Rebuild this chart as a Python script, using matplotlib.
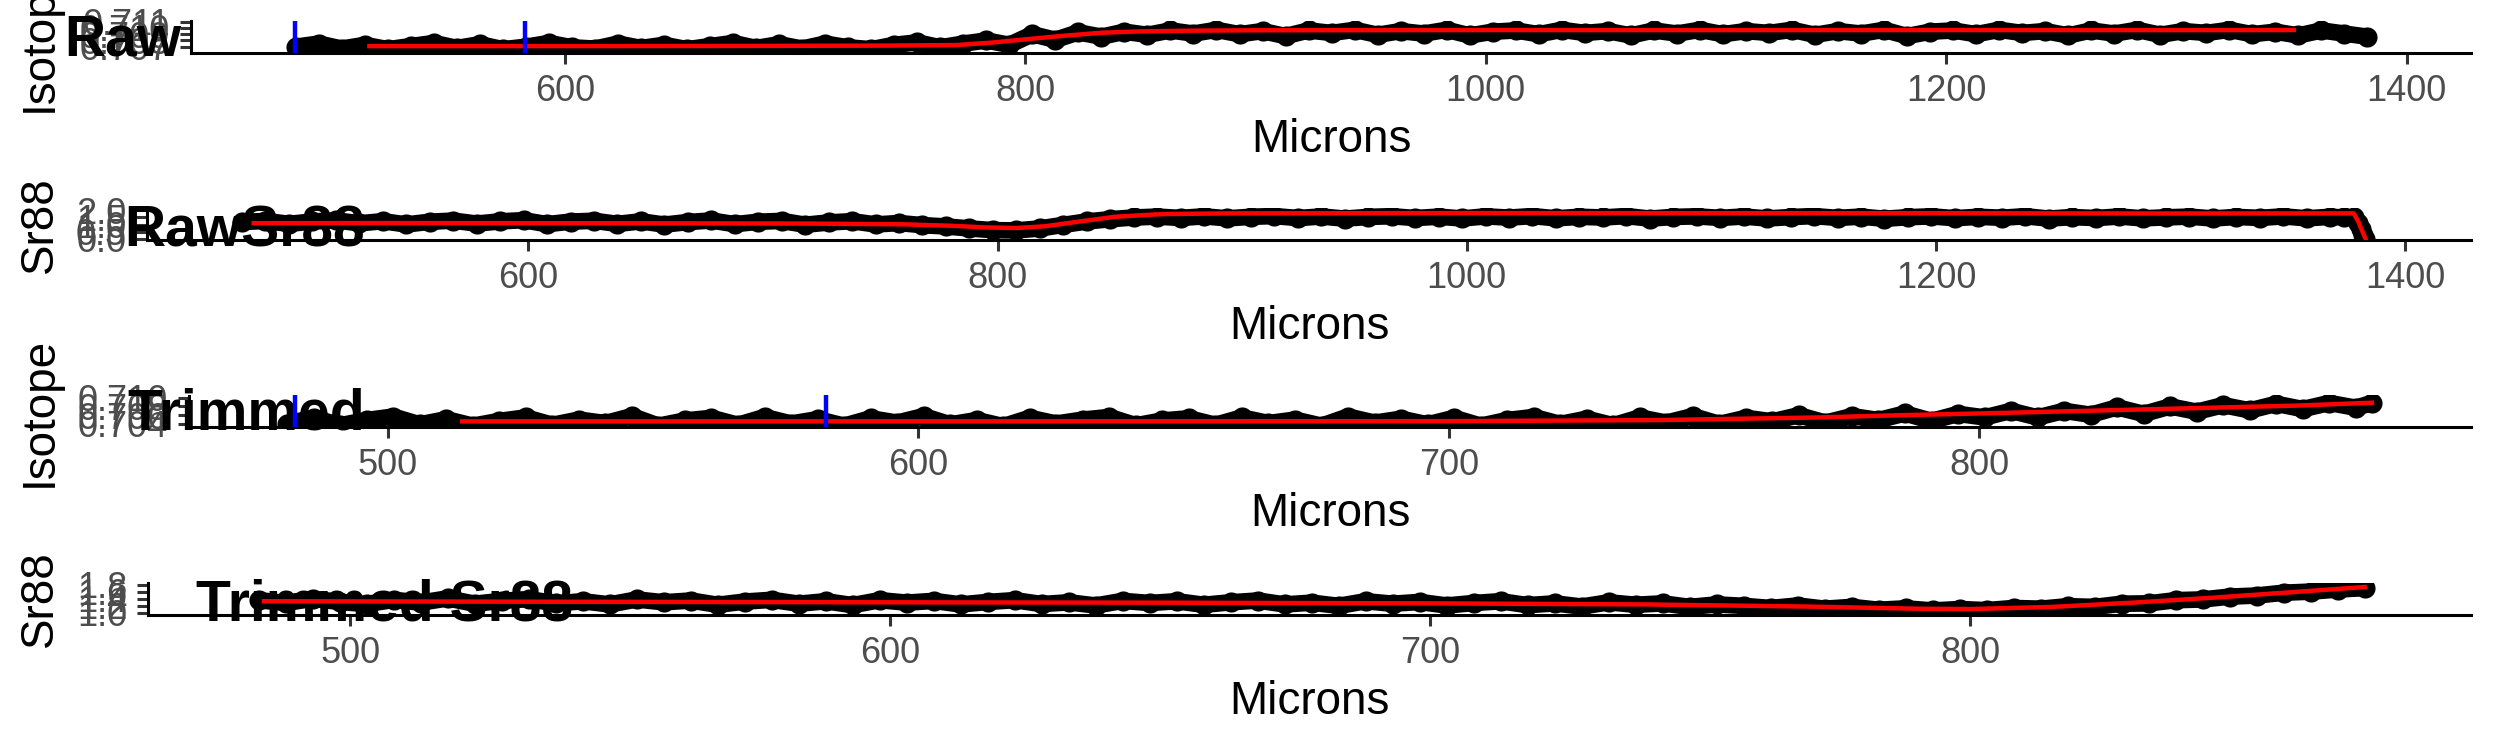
import matplotlib.pyplot as plt

plt.rcParams['font.family'] = ['Liberation Sans', 'DejaVu Sans']

# ---- Raw isotope ratio (points and smoothed line)
raw_iso_x = [483, 493, 503, 513, 523, 533, 543, 553, 563, 573, 583, 593, 603, 613, 623, 633,
             643, 653, 663, 673, 683, 693, 703, 713, 723, 733, 743, 753, 763, 773, 783, 793,
             803, 813, 823, 833, 843, 853, 863, 873, 883, 893, 903, 913, 923, 933, 943, 953,
             963, 973, 983, 993, 1003, 1013, 1023, 1033, 1043, 1053, 1063, 1073, 1083, 1093,
             1103, 1113, 1123, 1133, 1143, 1153, 1163, 1173, 1183, 1193, 1203, 1213, 1223,
             1233, 1243, 1253, 1263, 1273, 1283, 1293, 1303, 1313, 1323, 1333, 1343, 1353,
             1363, 1373, 1383]
raw_iso_y = [0.7070, 0.7075, 0.7067, 0.7073, 0.7066, 0.7071, 0.7076, 0.7068, 0.7074, 0.7066,
             0.7070, 0.7076, 0.7069, 0.7067, 0.7075, 0.7068, 0.7073, 0.7066, 0.7071, 0.7076,
             0.7068, 0.7074, 0.7067, 0.7075, 0.7069, 0.7066, 0.7073, 0.7077, 0.7069, 0.7075,
             0.7080, 0.7073, 0.7090, 0.7081, 0.7093, 0.7086, 0.7094, 0.7089, 0.7096, 0.7091,
             0.7097, 0.7090, 0.7095, 0.7087, 0.7096, 0.7092, 0.7097, 0.7089, 0.7095, 0.7091,
             0.7097, 0.7088, 0.7094, 0.7096, 0.7090, 0.7097, 0.7092, 0.7095, 0.7088, 0.7096,
             0.7091, 0.7097, 0.7090, 0.7095, 0.7092, 0.7097, 0.7089, 0.7095, 0.7091, 0.7097,
             0.7087, 0.7094, 0.7096, 0.7090, 0.7097, 0.7092, 0.7095, 0.7088, 0.7096, 0.7091,
             0.7097, 0.7089, 0.7095, 0.7092, 0.7097, 0.7090, 0.7094, 0.7088, 0.7096, 0.7091,
             0.7086]
raw_iso_smooth_x = [515, 560, 620, 680, 740, 770, 785, 800, 815, 833, 850, 870, 900, 1000,
                    1100, 1200, 1300, 1351]
raw_iso_smooth_y = [0.70710, 0.70710, 0.70711, 0.70713, 0.70718, 0.70727, 0.70765, 0.70818,
                    0.70870, 0.70924, 0.70945, 0.70956, 0.70963, 0.70967, 0.70966, 0.70967,
                    0.70966, 0.70967]
raw_iso_window = [482.5, 582.5]

# ---- Raw Sr88
raw_sr_x = [478, 488, 498, 508, 518, 528, 538, 548, 558, 568, 578, 588, 598, 608, 618, 628,
            638, 648, 658, 668, 678, 688, 698, 708, 718, 728, 738, 748, 758, 768, 778, 788,
            798, 808, 818, 828, 838, 848, 858, 868, 878, 888, 898, 908, 918, 928, 938, 948,
            958, 968, 978, 988, 998, 1008, 1018, 1028, 1038, 1048, 1058, 1068, 1078, 1088,
            1098, 1108, 1118, 1128, 1138, 1148, 1158, 1168, 1178, 1188, 1198, 1208, 1218,
            1228, 1238, 1248, 1258, 1268, 1278, 1288, 1298, 1308, 1318, 1328, 1338, 1348,
            1358, 1368, 1374, 1378, 1380, 1381, 1382, 1383]
raw_sr_y = [1.18, 1.26, 1.05, 1.22, 1.30, 1.09, 1.24, 1.01, 1.20, 1.28, 1.07, 1.23, 1.31, 1.03,
            1.21, 1.27, 1.05, 1.23, 1.00, 1.18, 1.29, 1.03, 1.20, 1.26, 0.99, 1.15, 1.24, 1.01,
            1.11, 0.96, 0.87, 0.73, 0.61, 0.59, 0.73, 0.98, 1.22, 1.38, 1.50, 1.56, 1.47, 1.58,
            1.44, 1.55, 1.60, 1.46, 1.57, 1.42, 1.54, 1.59, 1.46, 1.56, 1.43, 1.58, 1.49, 1.60,
            1.44, 1.55, 1.50, 1.60, 1.42, 1.54, 1.58, 1.47, 1.57, 1.43, 1.53, 1.60, 1.47, 1.56,
            1.41, 1.52, 1.58, 1.45, 1.55, 1.48, 1.59, 1.42, 1.53, 1.46, 1.57, 1.44, 1.51, 1.56,
            1.43, 1.54, 1.47, 1.58, 1.44, 1.55, 1.50, 1.52, 1.10, 0.70, 0.30, 0.02]
raw_sr_smooth_x = [483, 540, 600, 660, 720, 760, 780, 795, 808, 820, 835, 850, 870, 900, 1000,
                   1100, 1200, 1300, 1370, 1378, 1380, 1382, 1383]
raw_sr_smooth_y = [1.10, 1.11, 1.10, 1.09, 1.07, 1.02, 0.92, 0.80, 0.76, 0.88, 1.22, 1.55, 1.74,
                   1.79, 1.81, 1.80, 1.80, 1.78, 1.79, 1.79, 1.20, 0.40, 0.02]

# ---- Trimmed isotope ratio
trim_iso_x = [481, 486, 491, 496, 501, 506, 511, 516, 521, 526, 531, 536, 541, 546, 551, 556,
              561, 566, 571, 576, 581, 586, 591, 596, 601, 606, 611, 616, 621, 626, 631, 636,
              641, 646, 651, 656, 661, 666, 671, 676, 681, 686, 691, 696, 701, 706, 711, 716,
              721, 726, 731, 736, 741, 746, 751, 756, 761, 766, 771, 776, 781, 786, 791, 796,
              801, 806, 811, 816, 821, 826, 831, 836, 841, 846, 851, 856, 861, 866, 871, 874]
trim_iso_y = [0.7041, 0.7054, 0.7037, 0.7049, 0.7057, 0.7039, 0.7051, 0.7036, 0.7047, 0.7055,
              0.7038, 0.7050, 0.7042, 0.7058, 0.7036, 0.7048, 0.7054, 0.7038, 0.7056, 0.7041,
              0.7051, 0.7036, 0.7053, 0.7043, 0.7058, 0.7039, 0.7049, 0.7035, 0.7054, 0.7041,
              0.7050, 0.7056, 0.7037, 0.7048, 0.7053, 0.7038, 0.7055, 0.7042, 0.7050, 0.7036,
              0.7057, 0.7043, 0.7052, 0.7039, 0.7054, 0.7036, 0.7049, 0.7056, 0.7040, 0.7052,
              0.7037, 0.7055, 0.7043, 0.7058, 0.7040, 0.7054, 0.7046, 0.7060, 0.7043, 0.7058,
              0.7049, 0.7064, 0.7047, 0.7063, 0.7055, 0.7070, 0.7055, 0.7070, 0.7061, 0.7078,
              0.7063, 0.7080, 0.7068, 0.7083, 0.7071, 0.7086, 0.7074, 0.7088, 0.7077, 0.7088]
trim_iso_smooth_x = [514, 560, 620, 680, 700, 740, 770, 785, 800, 830, 860, 874]
trim_iso_smooth_y = [0.70460, 0.70460, 0.70461, 0.70463, 0.70465, 0.70490, 0.70550, 0.70600,
                     0.70640, 0.70730, 0.70820, 0.70885]
trim_iso_window = [482.5, 582.5]

# ---- Trimmed Sr88
trim_sr_x = [483, 488, 493, 498, 503, 508, 513, 518, 523, 528, 533, 538, 543, 548, 553, 558,
             563, 568, 573, 578, 583, 588, 593, 598, 603, 608, 613, 618, 623, 628, 633, 638,
             643, 648, 653, 658, 663, 668, 673, 678, 683, 688, 693, 698, 703, 708, 713, 718,
             723, 728, 733, 738, 743, 748, 753, 758, 763, 768, 773, 778, 783, 788, 793, 798,
             803, 808, 813, 818, 823, 828, 833, 838, 843, 848, 853, 858, 863, 868, 873]
trim_sr_y = [1.36, 1.28, 1.40, 1.31, 1.25, 1.37, 1.29, 1.41, 1.26, 1.34, 1.39, 1.27, 1.33, 1.24,
             1.38, 1.30, 1.35, 1.23, 1.32, 1.37, 1.26, 1.33, 1.22, 1.36, 1.29, 1.34, 1.24, 1.31,
             1.36, 1.25, 1.30, 1.21, 1.34, 1.28, 1.33, 1.23, 1.30, 1.35, 1.24, 1.29, 1.20, 1.33,
             1.26, 1.31, 1.21, 1.28, 1.33, 1.22, 1.27, 1.18, 1.30, 1.23, 1.27, 1.17, 1.24, 1.20,
             1.14, 1.21, 1.12, 1.17, 1.09, 1.13, 1.07, 1.11, 1.08, 1.14, 1.12, 1.19, 1.17, 1.26,
             1.27, 1.36, 1.38, 1.46, 1.49, 1.57, 1.60, 1.66, 1.70]
trim_sr_smooth_x = [484, 520, 560, 600, 650, 700, 740, 770, 790, 800, 815, 830, 845, 860, 873]
trim_sr_smooth_y = [1.33, 1.32, 1.31, 1.30, 1.29, 1.27, 1.24, 1.18, 1.12, 1.11, 1.17, 1.29, 1.43,
                    1.59, 1.73]

raw_xticks = [600, 800, 1000, 1200, 1400]
trim_xticks = [500, 600, 700, 800]
raw_iso_yticks = [0.707, 0.708, 0.709, 0.710, 0.711]
raw_sr_yticks = [0.0, 0.5, 1.0, 1.5, 2.0]
trim_iso_yticks = [0.704, 0.706, 0.708, 0.710]
trim_sr_yticks = [1.0, 1.2, 1.4, 1.6, 1.8]

W, H = 2495, 749
BLOCK = H / 4

fig = plt.figure(figsize=(W / 100, H / 100), dpi=100)


def make_panel(k, left, xlim, ylim, xticks, yticks, fmt, ylabel, title, title_x, title_y):
    # panel box in pixels, block k from the top
    top = BLOCK * k + 21
    bottom = BLOCK * k + 53
    ax = fig.add_axes([left / W, 1 - bottom / H, (2471 - left) / W, (bottom - top) / H])
    ax.set_xlim(xlim)
    ax.set_ylim(ylim)
    ax.set_xticks(xticks)
    ax.set_yticks(yticks)
    ax.set_yticklabels([fmt % t for t in yticks])
    for side in ['top', 'right']:
        ax.spines[side].set_visible(False)
    for side in ['left', 'bottom']:
        ax.spines[side].set_linewidth(2.2)
        ax.spines[side].set_color('black')
    ax.tick_params(length=8, width=2.2, color='#333333', labelcolor='#4D4D4D',
                   labelsize=26, pad=7)
    # axis titles
    fig.text(40 / W, 1 - (BLOCK * k + 37) / H, ylabel, rotation=90, ha='center',
             va='center', fontsize=33)
    fig.text((left + 2471) / 2 / W, 1 - (BLOCK * k + 140) / H, 'Microns', ha='center',
             va='center', fontsize=33)
    # bold panel name sits under the data
    ax.text(title_x / W, 1 - (BLOCK * k + title_y) / H, title, transform=fig.transFigure,
            ha='left', va='center', fontsize=41, fontweight='bold', clip_on=False, zorder=1.8)
    return ax


def draw_data(ax, x, y, sx, sy, window=None):
    # thick black trace + dots gives the dense point band
    ax.plot(x, y, color='black', lw=12, solid_joinstyle='round', solid_capstyle='round',
            zorder=3)
    ax.scatter(x, y, s=210, color='black', linewidths=0, zorder=3)
    ax.plot(sx, sy, color='red', lw=3.2, zorder=4)
    if window is not None:
        for w in window:
            ax.axvline(w, ymin=0.04, ymax=0.95, color='blue', lw=3.2, zorder=5)


ax1 = make_panel(0, 191, (437.5, 1428), (0.70600, 0.71111), raw_xticks, raw_iso_yticks,
                 '%.3f', 'Isotope', 'Raw', 64, 41)
draw_data(ax1, raw_iso_x, raw_iso_y, raw_iso_smooth_x, raw_iso_smooth_y, raw_iso_window)

ax2 = make_panel(1, 147, (437.5, 1428), (-0.1, 2.15), raw_xticks, raw_sr_yticks,
                 '%.1f', 'Sr88', 'RawSr88', 124, 44)
draw_data(ax2, raw_sr_x, raw_sr_y, raw_sr_smooth_x, raw_sr_smooth_y)

ax3 = make_panel(2, 189, (462.5, 892.7), (0.7032, 0.7105), trim_xticks, trim_iso_yticks,
                 '%.3f', 'Isotope', 'Trimmed', 127, 40)
draw_data(ax3, trim_iso_x, trim_iso_y, trim_iso_smooth_x, trim_iso_smooth_y, trim_iso_window)

ax4 = make_panel(3, 148, (462.5, 892.7), (0.95, 1.85), trim_xticks, trim_sr_yticks,
                 '%.1f', 'Sr88', 'Trimmed Sr88', 196, 44)
draw_data(ax4, trim_sr_x, trim_sr_y, trim_sr_smooth_x, trim_sr_smooth_y)

fig.savefig('out.png', dpi=100, facecolor='white')
